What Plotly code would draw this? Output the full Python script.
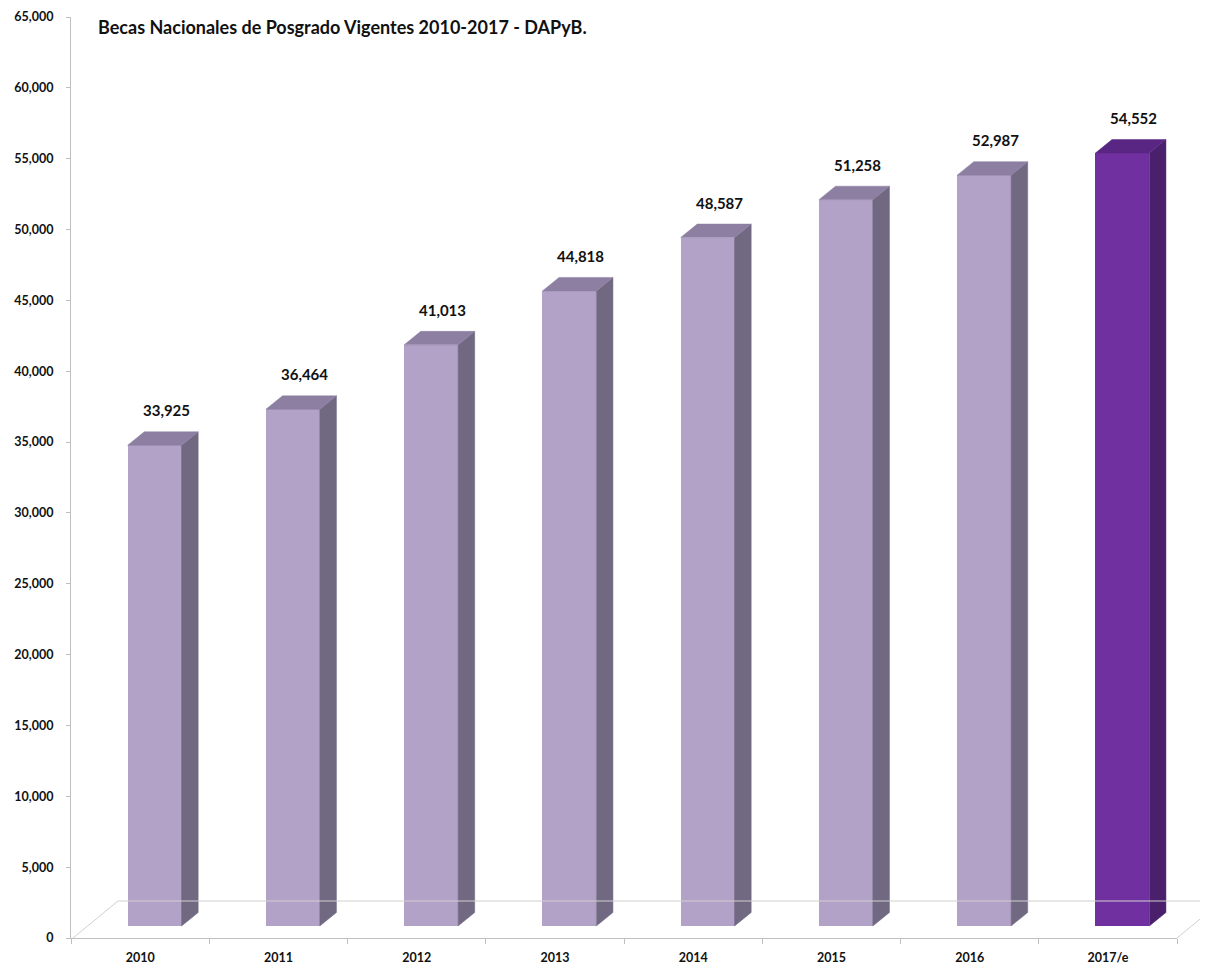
import plotly.graph_objects as go

# ---- data ----
categories = ["2010", "2011", "2012", "2013", "2014", "2015", "2016", "2017/e"]
values = [33925, 36464, 41013, 44818, 48587, 51258, 52987, 54552]
is_estimate = [False, False, False, False, False, False, False, True]
y_ticks = list(range(0, 65001, 5000))
title_text = "Becas Nacionales de Posgrado Vigentes 2010-2017 - DAPyB."

# ---- style ----
FONT = "Lato"
front_col = {False: "#B3A2C7", True: "#7030A0"}
side_col = {False: "#716882", True: "#4A1F6B"}
top_col = {False: "#8C7FA2", True: "#5A2683"}
BASE = 850          # visual lift of bars above the floor front edge
OFFSET = -0.09      # bar front face offset within category (category units)
WIDTH = 0.39        # bar front face width (category units)
DX = 0.12           # depth offset in x (category units)
DY = 950            # depth offset in y (value units)
AXIS_GREY = "#BFBFBF"
FLOOR_GREY = "#D0D0D0"

# page body has an 8px margin: figure is drawn 8px right/down of the window origin
PAGE_OFF = 8
FIG_W, FIG_H = 1200, 957
PLOT_L, PLOT_R, PLOT_T, PLOT_B = 71, 1177, 17, 938   # target plot area in window px

fig = go.Figure()

# front faces
fig.add_trace(go.Bar(
    x=categories, y=values, base=BASE,
    offset=OFFSET, width=WIDTH,
    marker=dict(color=[front_col[e] for e in is_estimate], line=dict(width=0)),
    hoverinfo="skip", showlegend=False,
))

# side and top faces (3D effect) on an overlaid numeric axis
for i, (v, e) in enumerate(zip(values, is_estimate)):
    x0 = i + OFFSET
    x1 = x0 + WIDTH
    yb = BASE
    yt = BASE + v
    fig.add_trace(go.Scatter(
        x=[x1, x1 + DX, x1 + DX, x1, x1],
        y=[yb, yb + DY, yt + DY, yt, yb],
        xaxis="x2", yaxis="y", mode="lines", fill="toself",
        fillcolor=side_col[e], line=dict(width=0.5, color=side_col[e]),
        hoverinfo="skip", showlegend=False,
    ))
    fig.add_trace(go.Scatter(
        x=[x0, x1, x1 + DX, x0 + DX, x0],
        y=[yt, yt, yt + DY, yt + DY, yt],
        xaxis="x2", yaxis="y", mode="lines", fill="toself",
        fillcolor=top_col[e], line=dict(width=0.5, color=top_col[e]),
        hoverinfo="skip", showlegend=False,
    ))

# data labels
annotations = []
for i, v in enumerate(values):
    annotations.append(dict(
        x=i, y=BASE + v, xref="x", yref="y",
        text=f"{v:,}", showarrow=False,
        xshift=26, yshift=35, yanchor="middle",
        font=dict(family=FONT, size=15, color="#111111", weight=700),
    ))

W_PX = float(PLOT_R - PLOT_L)
H_PX = float(PLOT_B - PLOT_T)
def px(xp):
    return (xp - PLOT_L) / W_PX
def py(yp):
    return (PLOT_B - yp) / H_PX

# title
annotations.append(dict(
    x=px(96), y=py(27), xref="paper", yref="paper",
    xanchor="left", yanchor="middle", showarrow=False,
    text=title_text,
    font=dict(family=FONT, size=18, color="#111111", weight=700),
))

# floor outline (3D base)
shapes = [
    dict(type="line", xref="paper", yref="paper",
         x0=px(73), y0=py(938), x1=px(118), y1=py(901),
         line=dict(color=FLOOR_GREY, width=1)),
    dict(type="line", xref="paper", yref="paper",
         x0=px(118), y0=py(901), x1=px(1225), y1=py(901),
         line=dict(color=FLOOR_GREY, width=1)),
    dict(type="line", xref="paper", yref="paper",
         x0=px(1177), y0=py(938), x1=px(1222), y1=py(901),
         line=dict(color=FLOOR_GREY, width=1)),
]

fig.update_layout(
    width=FIG_W, height=FIG_H,
    margin=dict(l=PLOT_L - PAGE_OFF, r=FIG_W - (PLOT_R - PAGE_OFF),
                t=PLOT_T - PAGE_OFF, b=FIG_H - (PLOT_B - PAGE_OFF),
                autoexpand=False),
    paper_bgcolor="white", plot_bgcolor="white",
    bargap=0,
    showlegend=False,
    annotations=annotations,
    shapes=shapes,
    xaxis=dict(
        type="category", range=[-0.5, 7.5],
        showline=True, linecolor=AXIS_GREY, linewidth=1,
        ticks="outside", tickson="boundaries", ticklen=5, tickcolor=AXIS_GREY,
        ticklabelstandoff=8,
        showgrid=False, zeroline=False,
        tickfont=dict(family=FONT, size=12.5, color="#111111", weight=700),
        automargin=False,
    ),
    xaxis2=dict(
        overlaying="x", range=[-0.5, 7.5], visible=False,
    ),
    yaxis=dict(
        range=[0, 65000], tickvals=y_ticks, tickformat=",",
        showline=True, linecolor=AXIS_GREY, linewidth=1,
        ticks="outside", ticklen=4, tickcolor=AXIS_GREY,
        ticklabelstandoff=10,
        showgrid=False, zeroline=False,
        tickfont=dict(family=FONT, size=12.5, color="#111111", weight=700),
        automargin=False,
    ),
)

fig.write_html("out.html")
